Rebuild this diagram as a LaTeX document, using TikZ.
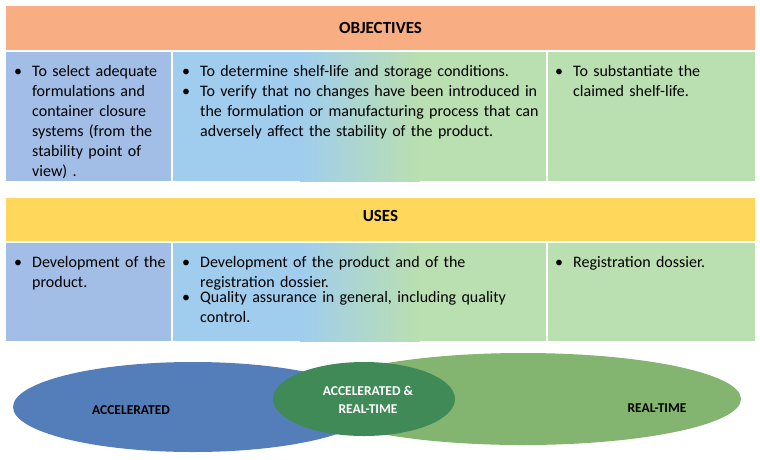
\documentclass[tikz,border=0pt]{standalone}
\usepackage{fontspec}
\setmainfont{Carlito}
\usetikzlibrary{positioning}
\definecolor{objcolor}{RGB}{248, 173, 130}
\definecolor{usecolor}{RGB}{255, 215, 90}
\definecolor{bluecell}{RGB}{163, 190, 230}
\definecolor{lightblue}{RGB}{160, 205, 238}
\definecolor{greencell}{RGB}{186, 223, 176}
\definecolor{accblue}{RGB}{84, 126, 186}
\definecolor{rtgreen}{RGB}{124, 176, 104}
\definecolor{bothgreen}{RGB}{64, 138, 88}
\newcommand{\bitem}[1]{\par\noindent\makebox[18pt][l]{\textbullet}\parbox[t]{\dimexpr\linewidth-18pt}{\hyphenpenalty=10000\exhyphenpenalty=10000 #1}\par}
\tikzset{
  header/.style={font=\fontsize{17}{19}\selectfont\bfseries},
  celltext/.style={anchor=north west, inner sep=0pt, font=\fontsize{16}{20}\selectfont},
  ovallabel/.style={font=\fontsize{13.5}{18}\selectfont\bfseries, align=center}
}
\begin{document}
\begin{tikzpicture}[x=1pt, y=-1pt]
        \useasboundingbox (0,0) rectangle (760,459);

        % Objectives table
        \fill[objcolor] (6,6) rectangle (755,50);
        \node[header] (objhead) at (380.5,28) {OBJECTIVES};
        \fill[bluecell] (6,52) rectangle (171,181);
        \fill[lightblue] (173,52) rectangle (300,181);
        \shade[left color=lightblue, right color=greencell] (300,181) rectangle (420,52);
        \fill[greencell] (419,52) rectangle (546,181);
        \fill[greencell] (548,52) rectangle (755,181);
        \node[celltext, text width=152pt] (objone) at (14,56)
          {\bitem{To select adequate formulations and container closure systems (from the stability point of view)~.}};
        \node[celltext, text width=359pt] (objtwo) at (182,56)
          {\bitem{To determine shelf-life and storage conditions.}
           \bitem{To verify that no changes have been introduced in the formulation or manufacturing process that can adversely affect the stability of the product.}};
        \node[celltext, text width=193pt] (objthree) at (555,56)
          {\bitem{To substantiate the claimed shelf-life.}};

        % Uses table
        \fill[usecolor] (6,198) rectangle (755,241);
        \node[header] (usehead) at (380.5,216) {USES};
        \fill[bluecell] (6,243) rectangle (171,341);
        \fill[lightblue] (173,243) rectangle (300,341);
        \shade[left color=lightblue, right color=greencell] (300,341) rectangle (420,243);
        \fill[greencell] (419,243) rectangle (546,341);
        \fill[greencell] (548,243) rectangle (755,341);
        \node[celltext, text width=152pt] (useone) at (14,247)
          {\bitem{\raggedright Development of the product.}};
        \node[celltext, text width=345pt] (usetwo) at (182,247)
          {\bitem{\raggedright Development of the product and of the registration dossier.}
           \bitem{\raggedright Quality assurance in general, including quality control.}};
        \node[celltext, text width=193pt] (usethree) at (555,247)
          {\bitem{\raggedright Registration dossier.}};

        % Ovals
        \fill[accblue] (193,407) ellipse (180pt and 45pt);
        \fill[rtgreen, opacity=0.95] (523,399) ellipse (218pt and 46pt);
        \fill[bothgreen] (364,399) ellipse (91pt and 37pt);
        \node[ovallabel] (acc) at (131,410) {ACCELERATED};
        \node[ovallabel] (rt) at (657,408) {REAL-TIME};
        \node[ovallabel, text=white] (both) at (368,400) {ACCELERATED \&\\REAL-TIME};
    \end{tikzpicture}
\end{document}
